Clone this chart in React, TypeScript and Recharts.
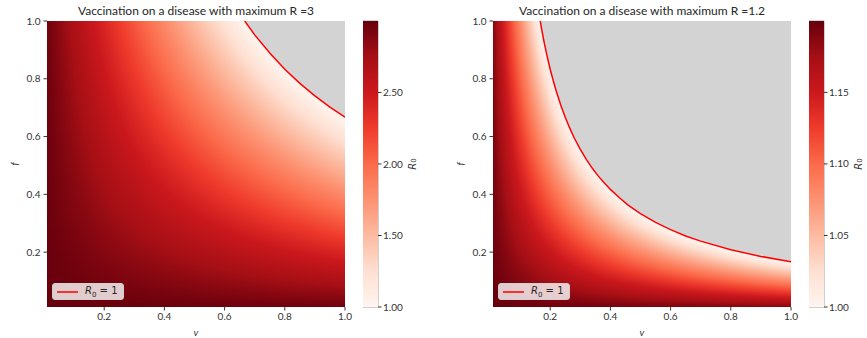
import React from "react";
import { ScatterChart, Scatter, XAxis, YAxis, CartesianGrid, ReferenceArea } from "recharts";

// model grid: v and f run from 0.01 to 1.0; the two maximum R values
const vMin = 0.01;
const vMax = 1.0;
const maxR = [3, 1.2];
const titles = ["Vaccination on a disease with maximum R =3", "Vaccination on a disease with maximum R =1.2"];
const axisTicks = [0.2, 0.4, 0.6, 0.8, 1.0];
const cbarTicks = [[1.0, 1.5, 2.0, 2.5], [1.0, 1.05, 1.1, 1.15]];

// R0 = 1 contour
const contourV = [
  [0.667, 0.7, 0.75, 0.8, 0.85, 0.9, 0.95, 1.0],
  [0.167, 0.172, 0.18, 0.19, 0.2, 0.21, 0.22, 0.235, 0.25, 0.265, 0.28, 0.3, 0.32, 0.34, 0.36, 0.38, 0.4, 0.43, 0.46, 0.5, 0.55, 0.6, 0.65, 0.7, 0.8, 0.9, 1.0],
];
const contourF = [
  [1.0, 0.952, 0.889, 0.833, 0.784, 0.741, 0.702, 0.667],
  [1.0, 0.969, 0.926, 0.877, 0.833, 0.794, 0.758, 0.709, 0.667, 0.629, 0.595, 0.556, 0.521, 0.49, 0.463, 0.439, 0.417, 0.388, 0.362, 0.333, 0.303, 0.278, 0.256, 0.238, 0.208, 0.185, 0.167],
];

const REDS = ["#fff5f0", "#fee0d2", "#fcbba1", "#fc9272", "#fb6a4a", "#ef3b2c", "#cb181d", "#a50f15", "#67000d"];
const hex = (h: string) => [1, 3, 5].map(i => parseInt(h.slice(i, i + 2), 16));
function reds(t: number) {
  const p = Math.max(0, Math.min(1, t)) * (REDS.length - 1);
  const i = Math.min(Math.floor(p), REDS.length - 2);
  const a = hex(REDS[i]), b = hex(REDS[i + 1]), k = p - i;
  return `rgb(${a.map((x, j) => Math.round(x + (b[j] - x) * k)).join(",")})`;
}

const FONT = "Lato, 'Open Sans', sans-serif";
const MATH = "'DejaVu Sans', sans-serif";
const PLOT_W = 298, PLOT_H = 286, TOP = 21, XAX_H = 31, YAX_W = 47, RIGHT = 12, CBAR_W = 15, ROWS = 286;
const tick = { fontSize: 10, fill: "#333", fontFamily: FONT };

function RotLabel(props: any) {
  const { viewBox, dx, children } = props;
  const x = viewBox.x + dx, y = viewBox.y + viewBox.height / 2;
  return <text x={x} y={y} transform={`rotate(-90 ${x} ${y})`} textAnchor="middle" dominantBaseline="central" fontFamily={FONT} fontSize={10} fill="#333">{children}</text>;
}

function LegendBox({ left, top }: { left: number; top: number }) {
  return <div style={{ position: "absolute", left, top, background: "rgba(255,255,255,0.8)", border: "1px solid #d0d0d0", borderRadius: 3, padding: "0 5px 0 4px", display: "flex", alignItems: "center", gap: 7, height: 17, boxSizing: "border-box" }}>
    <svg width={21} height={4}><line x1={0} x2={21} y1={2} y2={2} stroke="red" strokeWidth={1.5} /></svg>
    <span style={{ fontFamily: MATH, fontSize: 10, color: "#262626", whiteSpace: "nowrap" }}><i>R</i><sub style={{ fontSize: 7 }}>0</sub> = 1</span>
  </div>;
}

// gradient stops along one row of constant f (R0 is linear in v there)
function rowStops(t0: number, t1: number) {
  const out: { o: number; c: string }[] = [{ o: 0, c: reds(t0) }];
  const n = REDS.length - 1;
  for (let k = n; k >= 0; k--) {
    const b = k / n;
    if (b < t0 && b > t1) out.push({ o: (t0 - b) / (t0 - t1), c: reds(b) });
  }
  out.push({ o: 1, c: reds(t1) });
  return out;
}

function Panel({ idx, left }: { idx: number; left: number }) {
  const R = maxR[idx];
  const top = R * (1 - vMin * vMin);
  const norm = (r: number) => (r - 1) / (top - 1);
  const rows = Array.from({ length: ROWS }, (_, j) => {
    const f = vMin + ((j + 0.5) / ROWS) * (vMax - vMin);
    const vEnd = Math.min(vMax, (1 - 1 / R) / f);
    return { v: vMin, f, vEnd, stops: rowStops(norm(R * (1 - vMin * f)), norm(R * (1 - vEnd * f))) };
  }).filter(r => r.vEnd > vMin);
  const bar = [{ x: 0, y: top }];
  const contour = contourV[idx].map((v, i) => ({ v, f: contourF[idx][i] }));
  const rh = PLOT_H / ROWS, pxPerV = PLOT_W / (vMax - vMin);
  const plotLeft = left + YAX_W;
  return <>
    <div style={{ position: "absolute", left: plotLeft, top: 3, width: PLOT_W, textAlign: "center", fontFamily: FONT, fontSize: 12, lineHeight: "16px", color: "#262626" }}>{titles[idx]}</div>
    <div style={{ position: "absolute", left, top: 0 }}>
      <ScatterChart width={YAX_W + PLOT_W + RIGHT} height={338} margin={{ top: TOP, right: RIGHT, bottom: 0, left: 0 }}>
        <CartesianGrid fill="#d3d3d3" fillOpacity={1} horizontal={false} vertical={false} />
        <XAxis type="number" dataKey="v" domain={[vMin, vMax]} ticks={axisTicks} allowDataOverflow height={XAX_H} tick={tick} tickSize={3.5} tickMargin={2} tickLine={{ stroke: "#333" }} axisLine={false} tickFormatter={(t: number) => t.toFixed(1)}
          label={{ content: (p: any) => <text x={p.viewBox.x + p.viewBox.width / 2} y={p.viewBox.y + 25} textAnchor="middle" dominantBaseline="central" fontFamily={FONT} fontStyle="italic" fontSize={10} fill="#333">v</text> }} />
        <YAxis type="number" dataKey="f" domain={[vMin, vMax]} ticks={axisTicks} allowDataOverflow width={YAX_W} tick={tick} tickSize={3.5} tickMargin={3} tickLine={{ stroke: "#333" }} axisLine={false} tickFormatter={(t: number) => t.toFixed(1)}
          label={{ content: (p: any) => <RotLabel viewBox={p.viewBox} dx={14}><tspan fontStyle="italic">f</tspan></RotLabel> }} />
        <Scatter data={rows} isAnimationActive={false} shape={(p: any) => {
          const id = `row${idx}_${p.index}`;
          return <g>
            <defs><linearGradient id={id} x1="0" y1="0" x2="1" y2="0">
              {p.payload.stops.map((s: any, k: number) => <stop key={k} offset={s.o} stopColor={s.c} />)}
            </linearGradient></defs>
            <rect x={p.cx} y={p.cy - rh / 2 - 0.3} width={(p.payload.vEnd - p.payload.v) * pxPerV} height={rh + 0.6} fill={`url(#${id})`} />
          </g>;
        }} />
        <Scatter data={contour} isAnimationActive={false} line={{ stroke: "red", strokeWidth: 1.5 }} lineType="joint" shape={() => <g />} />
      </ScatterChart>
    </div>
    <LegendBox left={plotLeft + 5} top={283} />
    <div style={{ position: "absolute", left: plotLeft + PLOT_W + 18, top: 0 }}>
      <ScatterChart width={CBAR_W + 45} height={338} margin={{ top: TOP, right: 0, bottom: XAX_H, left: 0 }}>
        <defs>
          <linearGradient id={`cbar${idx}`} x1="0" y1="1" x2="0" y2="0">
            {REDS.map((c, i) => <stop key={i} offset={i / (REDS.length - 1)} stopColor={c} />)}
          </linearGradient>
        </defs>
        <XAxis type="number" dataKey="x" domain={[0, 1]} hide />
        <YAxis type="number" dataKey="y" orientation="right" domain={[1, top]} ticks={cbarTicks[idx]} allowDataOverflow width={45} tick={tick} tickSize={3.5} tickMargin={1.5} tickLine={{ stroke: "#333" }} axisLine={false} tickFormatter={(t: number) => t.toFixed(2)}
          label={{ content: (p: any) => <RotLabel viewBox={p.viewBox} dx={34}><tspan fontFamily={MATH} fontStyle="italic">R</tspan><tspan fontFamily={MATH} fontSize={7} dy={2}>0</tspan></RotLabel> }} />
        <Scatter data={bar} isAnimationActive={false} shape={(p: any) => <rect x={p.cx} y={p.cy} width={CBAR_W} height={PLOT_H} fill={`url(#cbar${idx})`} />} />
        <ReferenceArea x1={0} x2={1} y1={1} y2={top} fill="none" stroke="#8c8c8c" strokeWidth={0.8} ifOverflow="visible" />
      </ScatterChart>
    </div>
  </>;
}

export default function App() {
  return <div style={{ position: "absolute", left: 0, top: 0, width: 867, height: 338, background: "#fff", overflow: "hidden" }}>
    <Panel idx={0} left={0} />
    <Panel idx={1} left={446} />
  </div>;
}
